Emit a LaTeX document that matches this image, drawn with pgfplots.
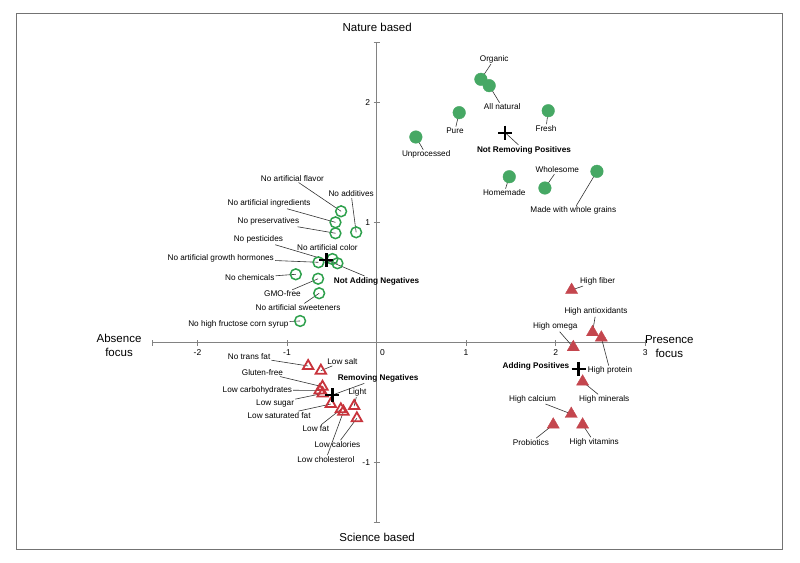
\documentclass[border=0pt]{standalone}
\usepackage{pgfplots}
\pgfplotsset{compat=1.18}
\usepackage{fontspec}
\setmainfont{Liberation Sans}

\definecolor{natgreen}{RGB}{70,168,100}
\definecolor{opengreen}{RGB}{46,160,76}
\definecolor{redopen}{RGB}{200,52,60}
\definecolor{redfill}{RGB}{196,70,78}
\definecolor{axgray}{RGB}{130,130,130}

% point x, point y, label x, label y, text
\newcommand{\ann}[6][]{%
  \node[lbl,#1] (t) at (axis cs:#4,#5) {#6};
  \draw[leader] (axis cs:#2,#3) -- (t);}

\tikzset{
  lbl/.style={font=\fontsize{8.2}{9.5}\selectfont, inner sep=1pt},
  bold/.style={font=\fontsize{8.2}{9.5}\selectfont\bfseries},
  leader/.style={draw=black!80, line width=0.6pt},
  big/.style={font=\fontsize{11.5}{14}\selectfont, align=center},
}

\begin{document}
\begin{tikzpicture}
\path (0pt,0pt) rectangle (800pt,562pt);
\draw[black!55, line width=1.3pt] (16.5pt,12.7pt) rectangle (782.7pt,548.7pt);
\begin{axis}[
    at={(152.7pt,39.3pt)}, anchor=south west,
    scale only axis, width=492.5pt, height=480pt,
    xmin=-2.5, xmax=3, ymin=-1.5, ymax=2.5,
    axis lines=middle,
    axis line style={-, axgray, line width=1.3pt},
    xtick={-2.5,-2,-1,0,1,2,3}, xticklabels={,-2,-1,,1,2,3},
    ytick={-1.5,-1,1,2,2.5}, yticklabels={,-1,1,2,},
    tick style={axgray, line width=1pt},
    major tick length=6pt, tick align=center,
    ticklabel style={font=\fontsize{8.5}{10}\selectfont},
    /pgf/number format/assume math mode=true,
    clip=false,
  ]

  % not removing positives
  \addplot[only marks, mark=*, mark size=6.3pt,
    mark options={fill=natgreen, draw=natgreen}]
    coordinates {
      (1.165,2.195) (1.258,2.142) (0.923,1.917) (1.917,1.933)
      (0.439,1.714) (1.482,1.383) (1.880,1.289) (2.461,1.428)};

  % not adding negatives
  \addplot[only marks, mark=o, mark size=5.4pt,
    mark options={draw=opengreen, line width=1.5pt}]
    coordinates {
      (-0.396,1.095) (-0.228,0.920) (-0.459,1.003) (-0.459,0.912)
      (-0.649,0.670) (-0.493,0.697) (-0.437,0.662) (-0.902,0.570)
      (-0.653,0.533) (-0.641,0.412) (-0.854,0.181)};

  % removing negatives
  \addplot[only marks, mark=triangle, mark size=6pt,
    mark options={draw=redopen, line width=1.8pt}]
    coordinates {
      (-0.764,-0.194) (-0.622,-0.233) (-0.604,-0.367) (-0.636,-0.398)
      (-0.602,-0.423) (-0.511,-0.511) (-0.399,-0.555) (-0.370,-0.575)
      (-0.250,-0.528) (-0.220,-0.630)};

  % adding positives
  \addplot[only marks, mark=triangle*, mark size=7pt,
    mark options={fill=redfill, draw=redfill}]
    coordinates {
      (2.178,0.439) (2.412,0.087) (2.510,0.042) (2.197,-0.038)
      (2.301,-0.325) (2.174,-0.594) (1.973,-0.683) (2.301,-0.683)};

  % group centres
  \addplot[only marks, mark=+, mark size=7pt,
    mark options={draw=black, line width=2.2pt}]
    coordinates {(1.437,1.750) (-0.560,0.689) (-0.493,-0.436) (2.256,-0.219)};

  \node[font=\fontsize{8.5}{10}\selectfont] at (axis cs:0.066,-0.08) {0};

  \node[big] at (axis cs:-2.876,-0.02) {Absence\\focus};
  \node[big] at (axis cs:3.269,-0.03) {Presence\\focus};
  \node[big] at (axis cs:0.007,2.631) {Nature based};
  \node[big] at (axis cs:0.007,-1.619) {Science based};

  \ann{1.165}{2.195}{1.314}{2.363}{Organic}
  \ann{1.258}{2.142}{1.403}{1.964}{All natural}
  \ann{0.923}{1.917}{0.875}{1.767}{Pure}
  \ann{1.917}{1.933}{1.892}{1.787}{Fresh}
  \ann{0.439}{1.714}{0.554}{1.567}{Unprocessed}
  \ann[bold]{1.437}{1.750}{1.646}{1.606}{Not Removing Positives}
  \ann{1.482}{1.383}{1.426}{1.248}{Homemade}
  \ann{1.880}{1.289}{2.018}{1.439}{Wholesome}
  \ann{2.461}{1.428}{2.197}{1.100}{Made with whole grains}

  \ann{-0.396}{1.095}{-0.940}{1.370}{No artificial flavor}
  \ann{-0.228}{0.920}{-0.284}{1.239}{No additives}
  \ann{-0.459}{1.003}{-1.200}{1.158}{No artificial ingredients}
  \ann{-0.459}{0.912}{-1.208}{1.008}{No preservatives}
  \ann{-0.437}{0.662}{-1.320}{0.858}{No pesticides}
  \node[lbl] at (axis cs:-0.549,0.795) {No artificial color};
  \ann{-0.649}{0.670}{-1.740}{0.703}{No artificial growth hormones}
  \ann[bold]{-0.560}{0.689}{0.000}{0.514}{Not Adding Negatives}
  \ann{-0.902}{0.570}{-1.416}{0.542}{No chemicals}
  \ann{-0.653}{0.533}{-1.051}{0.406}{GMO-free}
  \ann{-0.641}{0.412}{-0.876}{0.292}{No artificial sweeteners}
  \ann{-0.854}{0.181}{-1.543}{0.156}{No high fructose corn syrup}

  \ann{-0.764}{-0.194}{-1.423}{-0.117}{No trans fat}
  \ann{-0.622}{-0.233}{-0.381}{-0.158}{Low salt}
  \ann{-0.604}{-0.367}{-1.275}{-0.247}{Gluten-free}
  \ann{-0.636}{-0.398}{-1.331}{-0.394}{Low carbohydrates}
  \ann{-0.602}{-0.423}{-1.133}{-0.505}{Low sugar}
  \ann{-0.511}{-0.511}{-1.088}{-0.605}{Low saturated fat}
  \ann[bold]{-0.493}{-0.436}{0.017}{-0.297}{Removing Negatives}
  \ann{-0.250}{-0.528}{-0.213}{-0.411}{Light}
  \ann{-0.399}{-0.555}{-0.678}{-0.719}{Low fat}
  \ann{-0.220}{-0.630}{-0.437}{-0.847}{Low calories}
  \ann{-0.370}{-0.575}{-0.566}{-0.972}{Low cholesterol}

  \ann{2.178}{0.439}{2.468}{0.514}{High fiber}
  \ann{2.412}{0.087}{2.450}{0.258}{High antioxidants}
  \ann{2.510}{0.042}{2.607}{-0.233}{High protein}
  \ann{2.197}{-0.038}{1.996}{0.133}{High omega}
  \node[lbl,bold] at (axis cs:1.780,-0.200) {Adding Positives};
  \ann{2.301}{-0.325}{2.543}{-0.472}{High minerals}
  \ann{2.174}{-0.594}{1.742}{-0.469}{High calcium}
  \ann{1.973}{-0.683}{1.724}{-0.830}{Probiotics}
  \ann{2.301}{-0.683}{2.431}{-0.830}{High vitamins}
\end{axis}
\end{tikzpicture}
\end{document}
